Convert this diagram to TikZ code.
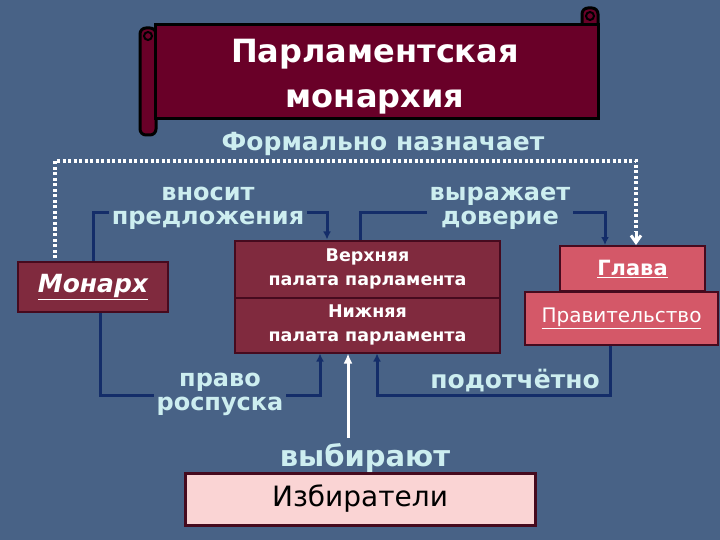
\documentclass[tikz,border=0pt]{standalone}
\usepackage{fontspec}
\setmainfont{DejaVu Sans}
\usetikzlibrary{arrows.meta}
\definecolor{bg}{RGB}{72,98,134}
\definecolor{scroll}{RGB}{105,0,40}
\definecolor{boxm}{RGB}{128,42,62}
\definecolor{boxp}{RGB}{212,88,104}
\definecolor{pinkb}{RGB}{250,212,212}
\definecolor{lbl}{RGB}{205,238,240}
\definecolor{navy}{RGB}{20,45,105}
\definecolor{edge}{RGB}{70,10,30}
\tikzset{
 lab/.style={text=lbl,font=\bfseries\fontsize{24}{24}\selectfont,align=center,inner sep=0pt},
 mbox/.style={draw=edge,line width=2pt,fill=boxm,text=white,align=center,inner sep=0pt},
 pbox/.style={draw=edge,line width=2pt,fill=boxp,text=white,align=center,inner sep=0pt},
 con/.style={draw=navy,line width=3pt,-{Latex[length=8pt,width=8pt]}},
}
\begin{document}
\begin{tikzpicture}[x=1pt,y=-1pt]
\fill[bg] (0,0) rectangle (720,540);
\useasboundingbox (0,0) rectangle (720,540);
% scroll
\draw[line width=3pt,fill=scroll,rounded corners=6pt] (582,8) rectangle (598,40);
\draw[line width=3pt,fill=scroll,rounded corners=6pt] (140,28) rectangle (156,135);
\node[draw=black,line width=3pt,fill=scroll,minimum width=443pt,minimum height=94pt,inner sep=0pt] (title) at (376.5,72) {};
\draw[line width=2pt] (148,36) circle (4pt);
\draw[line width=2pt] (590,16) circle (4pt);
\node[text=white,font=\bfseries\fontsize{32}{45}\selectfont,align=center] at (375,77) {Парламентская\\монархия};
\node[lab,font=\bfseries\fontsize{25}{26}\selectfont] (fn) at (383,144) {Формально назначает};
% boxes
\node[mbox,minimum width=150pt,minimum height=50pt] (mon) at (93,287) {\bfseries\itshape\fontsize{25}{26}\selectfont\underline{Монарх}};
\node[mbox,minimum width=265pt,minimum height=57pt] (up) at (367.5,269) {};
\node[mbox,minimum width=265pt,minimum height=55pt] (low) at (367.5,325) {};
\node[text=white,font=\bfseries\fontsize{17.5}{24}\selectfont,align=center] at (up) {Верхняя\\палата парламента};
\node[text=white,font=\bfseries\fontsize{17.5}{24}\selectfont,align=center] at (low) {Нижняя\\палата парламента};
\node[pbox,minimum width=193pt,minimum height=53pt] (gov) at (621.5,318) {\fontsize{20}{21}\selectfont\underline{Правительство}};
\node[pbox,minimum width=145pt,minimum height=45pt,anchor=south] (gl) at (632.5,292) {\bfseries\fontsize{21}{22}\selectfont\underline{Глава}};
\node[draw=edge,line width=3pt,fill=pinkb,minimum width=350pt,minimum height=52pt,inner sep=0pt] (izb) at (360,499) {\fontsize{28}{29}\selectfont Избиратели};
% connectors
\draw[con] (mon.north -| 93,0) |- (327,213) -- (up.north -| 327,0);
\draw[con] (up.north -| 360,0) |- (605,213) -- (gl.north -| 605,0);
\draw[con] (mon.south -| 100,0) |- (320,395) -- (low.south -| 320,0);
\draw[con] (gov.south -| 610,0) |- (377,395) -- (low.south -| 377,0);
\draw[white,line width=3pt,-{Latex[length=10pt,width=9pt]}] (348,438) -- (low.south -| 348,0);
\draw[white,line width=4pt,dash pattern=on 3pt off 2.5pt] (55,258) -- (55,161) -- (636,161) -- (636,232);
\draw[white,line width=3pt,-{Straight Barb[length=7pt,width=10pt]}] (636,232) -- (gl.north -| 636,0);
% labels
\node[lab,fill=bg,inner xsep=3pt] at (208,208) {вносит\\предложения};
\node[lab,fill=bg,inner xsep=3pt] at (500,208) {выражает\\доверие};
\node[lab,fill=bg,inner xsep=3pt] at (220,394) {право\\роспуска};
\node[lab,font=\bfseries\fontsize{25}{26}\selectfont] at (515,381) {подотчётно};
\node[lab,font=\bfseries\fontsize{29}{30}\selectfont] (vyb) at (365,458) {выбирают};
\end{tikzpicture}
\end{document}
